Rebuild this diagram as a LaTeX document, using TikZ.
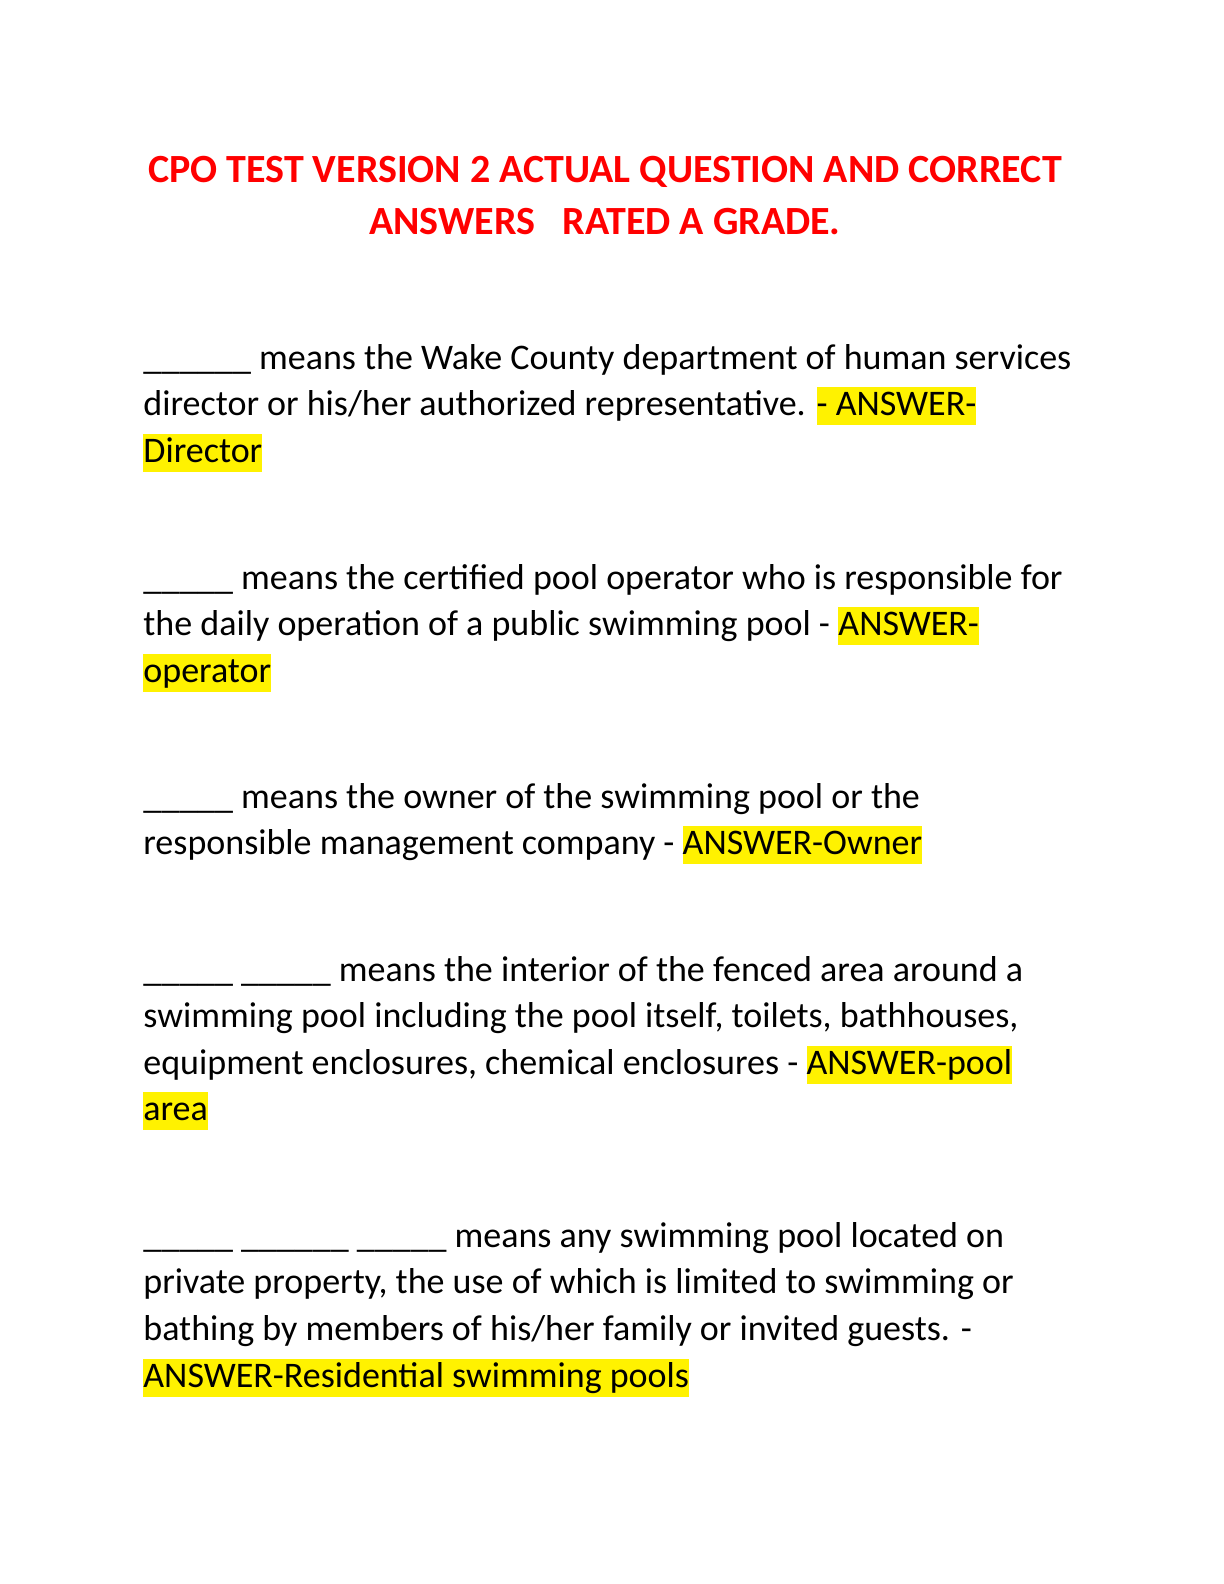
\documentclass[tikz,border=0pt]{standalone}
\usepackage{fontspec}
\setmainfont{Carlito}
\usepackage{xcolor}
\newcommand\hlt[1]{{\setlength\fboxsep{0pt}\colorbox{yellow}{\rule[-5pt]{0pt}{19pt}#1}}}
\begin{document}
\begin{tikzpicture}[x=0.5pt,y=-0.5pt]
\tikzset{ln/.style={anchor=base west,inner sep=0pt,font=\fontsize{18}{22}\selectfont},
ttl/.style={anchor=base,inner sep=0pt,text=red,font=\fontsize{20}{24}\selectfont\bfseries}}
\useasboundingbox (0,0) rectangle (1224,1584);
\node[ttl] (t1) at (605,182) {CPO TEST VERSION 2 ACTUAL QUESTION AND CORRECT};
\node[ttl] (t2) at (605,234) {ANSWERS\ \ \ RATED A GRADE.};
\node[ln] (a1) at (143,369) {\_\_\_\_\_\_ means the Wake County department of human services};
\node[ln] (a2) at (143,415) {director or his/her authorized representative. \hlt{- ANSWER-}};
\node[ln] (a3) at (143,462) {\hlt{Director}};
\node[ln] (b1) at (143,589) {\_\_\_\_\_ means the certified pool operator who is responsible for};
\node[ln] (b2) at (143,635) {the daily operation of a public swimming pool - \hlt{ANSWER-}};
\node[ln] (b3) at (143,682) {\hlt{operator}};
\node[ln] (c1) at (143,808) {\_\_\_\_\_ means the owner of the swimming pool or the};
\node[ln] (c2) at (143,854) {responsible management company - \hlt{ANSWER-Owner}};
\node[ln] (d1) at (143,981) {\_\_\_\_\_ \_\_\_\_\_ means the interior of the fenced area around a};
\node[ln] (d2) at (143,1027) {swimming pool including the pool itself, toilets, bathhouses,};
\node[ln] (d3) at (143,1074) {equipment enclosures, chemical enclosures - \hlt{ANSWER-pool}};
\node[ln] (d4) at (143,1120) {\hlt{area}};
\node[ln] (e1) at (143,1247) {\_\_\_\_\_ \_\_\_\_\_\_ \_\_\_\_\_ means any swimming pool located on};
\node[ln] (e2) at (143,1293) {private property, the use of which is limited to swimming or};
\node[ln] (e3) at (143,1340) {bathing by members of his/her family or invited guests. -};
\node[ln] (e4) at (143,1387) {\hlt{ANSWER-Residential swimming pools}};
\end{tikzpicture}
\end{document}
